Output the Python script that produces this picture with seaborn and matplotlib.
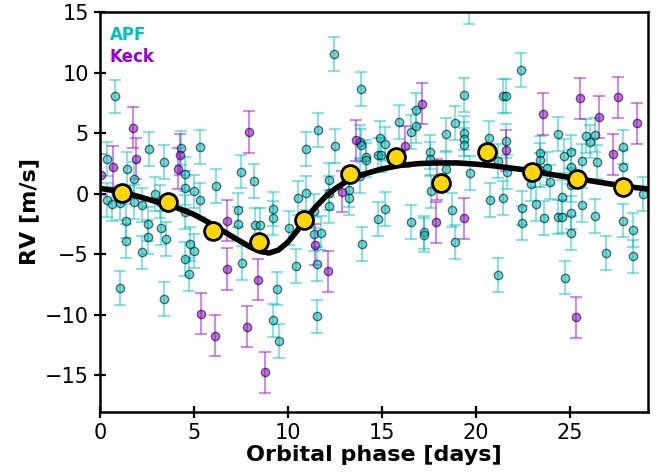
import matplotlib
matplotlib.use("Agg")
import matplotlib.pyplot as plt
import seaborn as sns
import pandas as pd

# ---------------- data ----------------
apf_phase = [0.80, 0.40, 1.45, 1.81, 2.61, 3.42, 4.34, 4.55, 4.52, 5.00, 5.32, 5.32, 6.20, 7.53, 8.22,
             7.36, 7.36, 9.22, 9.22, 8.24, 8.51, 0.40, 0.64, 1.09, 1.81, 2.23, 2.93, 3.22, 1.37, 2.55,
             2.55, 3.24, 3.54, 1.37, 4.52, 4.54, 4.79, 5.00, 4.76, 2.22, 1.05, 3.42, 7.54, 9.41, 9.20,
             9.51, 10.07, 10.43, 11.40, 11.76, 11.53, 11.53, 11.40, 12.18, 12.18, 12.18, 10.55, 10.94,
             10.94, 11.62, 12.47, 12.50, 13.91, 13.86, 13.91, 14.18, 14.18, 13.26, 13.26, 13.92, 13.83,
             14.79, 15.16, 14.89, 15.16, 14.82, 14.93, 15.89, 16.53, 16.81, 16.81, 16.54, 17.23, 17.23,
             17.64, 17.55, 17.55, 18.40, 18.40, 18.72, 18.90, 18.88, 19.38, 19.38, 19.38, 19.38, 19.64,
             19.68, 20.71, 21.17, 21.45, 21.60, 21.63, 21.68, 22.43, 20.73, 21.46, 21.17, 22.46, 22.46,
             22.91, 23.19, 23.43, 23.44, 23.40, 23.79, 23.64, 23.94, 24.38, 24.68, 25.08, 25.09, 25.09,
             24.38, 24.61, 24.60, 25.07, 25.07, 24.75, 25.64, 25.64, 25.85, 26.10, 26.33, 26.46, 26.33,
             26.90, 27.84, 27.84, 27.82, 28.37, 28.37, 28.88]
apf_rv = [8.04, 2.89, 2.04, 1.20, 3.68, 2.64, 3.78, 1.65, 0.45, 0.19, 3.88, -0.55, 0.62, 1.84, 1.09,
          -1.32, -2.48, -1.26, -2.02, -2.56, -2.56, -0.54, -0.83, -0.74, -0.66, -0.91, -0.04, -0.64, -2.27, -2.48,
          -3.55, -2.85, -3.76, -3.91, -1.47, -5.40, -4.13, -4.71, -6.67, -4.85, -7.77, -8.68, -5.73, -7.83, -10.47,
          -12.17, -2.83, -5.95, -3.31, -3.25, -5.79, -10.14, -1.40, -1.05, 0.06, 1.16, -0.36, 0.04,
          3.69, 5.29, 11.57, 3.97, 8.65, 4.32, 3.99, 3.03, 2.81, 0.33, -0.36, -4.13, 1.49,
          -2.09, -1.24, 4.60, 4.11, 3.22, 3.17, 5.93, 5.10, 6.94, 5.62, -2.34, -3.20, -3.41,
          0.19, 3.45, 2.89, 4.90, 2.07, -1.32, -3.97, 5.84, 8.14, 5.02, 4.52, 4.05, 15.4,
          1.71, 4.63, 2.73, 8.10, 8.10, 4.36, 1.79, 10.21, -0.55, -0.33, -6.69, -1.18, -2.44,
          0.79, -0.83, 3.39, 2.77, 1.98, 2.09, -2.02, 0.99, 4.96, 3.14, 3.47, 2.21, 0.69,
          -1.90, -1.88, -0.27, -1.55, -3.26, -6.92, 2.73, -0.95, 4.74, 4.32, 4.85, 2.59, -1.86,
          -4.93, 3.84, 2.19, -2.21, -3.00, -5.18, -0.02]
apf_err = 1.4

keck_phase = [1.74, 0.71, 0.05, 1.91, 4.28, 4.16, 7.95, 6.76, 5.37, 6.10, 6.79, 7.82, 8.40, 8.78,
              11.44, 12.16, 13.62, 16.22, 17.16, 17.87, 19.39, 23.58, 25.55, 27.57, 26.53, 28.55,
              27.32, 21.63, 25.34, 17.93, 12.87]
keck_rv = [5.45, 2.21, 1.57, 2.89, 3.22, 2.07, 5.10, -2.21, -9.92, -11.74, -6.22, -10.97, -7.11, -14.77,
           -4.21, -6.39, 4.42, 3.91, 7.46, -2.37, -2.01, 6.59, 7.88, 7.99, 6.34, 5.84,
           3.25, 3.58, -10.19, 1.16, 0.17]
keck_err = 1.7

bin_phase = [1.17, 3.62, 6.01, 8.46, 10.85, 13.30, 15.74, 18.14, 20.59, 22.98, 25.37, 27.82]
bin_rv = [0.08, -0.66, -3.06, -3.97, -2.15, 1.65, 3.06, 0.91, 3.47, 1.82, 1.24, 0.58]

model_phase = [0, 1, 2, 3, 4, 5, 6, 7, 7.5, 8, 8.5, 9, 9.5, 10, 10.5, 11, 11.5, 12, 12.5, 13, 13.5, 14,
               15, 16, 17, 18, 19, 20, 21, 22, 23, 24, 25, 26, 27, 28, 29.15]
model_rv = [0.45, 0.2, -0.2, -0.65, -1.1, -1.7, -2.55, -3.5, -3.95, -4.4, -4.75, -4.9, -4.65, -4.0,
            -3.05, -2.0, -1.05, -0.25, 0.4, 0.9, 1.3, 1.6, 2.05, 2.35, 2.5, 2.55, 2.55, 2.45, 2.3, 2.1,
            1.9, 1.6, 1.35, 1.1, 0.85, 0.6, 0.4]

# ---------------- figure ----------------
sns.set_theme(style="ticks")
plt.rcParams['font.family'] = ['DejaVu Sans']

fig = plt.figure(figsize=(6.57, 4.72), dpi=100)
ax = fig.add_axes([0.152, 0.128, 0.834, 0.846])

apf_col = "#00bfbf"
keck_col = "#9400d3"

apf = pd.DataFrame({"phase": apf_phase, "rv": apf_rv})
keck = pd.DataFrame({"phase": keck_phase, "rv": keck_rv})

ax.errorbar(apf["phase"], apf["rv"], yerr=apf_err, fmt="none", ecolor=apf_col,
            alpha=0.45, capsize=4, elinewidth=1.5, capthick=1.5, zorder=1)
ax.errorbar(keck["phase"], keck["rv"], yerr=keck_err, fmt="none", ecolor=keck_col,
            alpha=0.45, capsize=4, elinewidth=1.5, capthick=1.5, zorder=1)
sns.scatterplot(data=apf, x="phase", y="rv", ax=ax, color=apf_col, alpha=0.55, s=36,
                edgecolor="black", linewidth=1.0, zorder=2, legend=False)
sns.scatterplot(data=keck, x="phase", y="rv", ax=ax, color=keck_col, alpha=0.55, s=36,
                edgecolor="black", linewidth=1.0, zorder=2, legend=False)

model = pd.DataFrame({"phase": model_phase, "rv": model_rv})
sns.lineplot(data=model, x="phase", y="rv", ax=ax, color="black", linewidth=4, zorder=3,
             sort=True, legend=False)

bins = pd.DataFrame({"phase": bin_phase, "rv": bin_rv})
sns.scatterplot(data=bins, x="phase", y="rv", ax=ax, color="gold", s=165, edgecolor="black",
                linewidth=2, zorder=4, legend=False)

ax.text(0.018, 0.965, "APF", transform=ax.transAxes, color=apf_col, fontsize=12,
        fontweight="bold", ha="left", va="top")
ax.text(0.018, 0.91, "Keck", transform=ax.transAxes, color=keck_col, fontsize=12,
        fontweight="bold", ha="left", va="top")

ax.set_xlim(0, 29.15)
ax.set_ylim(-18, 15)
ax.set_xticks([0, 5, 10, 15, 20, 25])
ax.set_yticks([-15, -10, -5, 0, 5, 10, 15])
ax.set_xlabel("Orbital phase [days]", fontsize=16, fontweight="bold", labelpad=2, color="black")
ax.set_ylabel("RV [m/s]", fontsize=16, fontweight="bold", labelpad=4, color="black")
ax.tick_params(axis="both", direction="inout", length=9, width=1.6, labelsize=15,
               colors="black")
for sp in ax.spines.values():
    sp.set_visible(True)
    sp.set_linewidth(1.8)
    sp.set_color("black")

fig.savefig("out.png", dpi=100)
